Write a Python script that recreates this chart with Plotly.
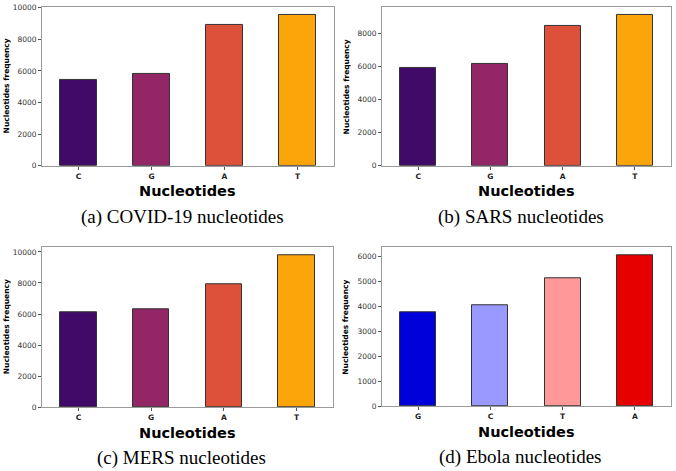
import plotly.graph_objects as go

# ---- data ----
covid_cats = ["C", "G", "A", "T"]
covid_vals = [5455, 5806, 8905, 9566]

sars_cats = ["C", "G", "A", "T"]
sars_vals = [5906, 6183, 8474, 9146]

mers_cats = ["C", "G", "A", "T"]
mers_vals = [6123, 6314, 7924, 9809]

ebola_cats = ["G", "C", "T", "A"]
ebola_vals = [3760, 4061, 5148, 6079]

captions = ["(a) COVID-19 nucleotides", "(b) SARS nucleotides",
            "(c) MERS nucleotides", "(d) Ebola nucleotides"]

inferno_colors = ["#420a68", "#932667", "#dd513a", "#fca50a"]
seismic_colors = ["#0000db", "#9999ff", "#ff9999", "#e60000"]

W, H = 676, 471

# panel boxes in pixels: (x0, x1, y0_top, y1_bottom)
boxes = [(42, 334, 3, 165), (382, 671, 3, 165),
         (42, 333, 248, 411), (382, 671, 248, 410)]

panels = [
    (covid_cats, covid_vals, inferno_colors),
    (sars_cats, sars_vals, inferno_colors),
    (mers_cats, mers_vals, inferno_colors),
    (ebola_cats, ebola_vals, seismic_colors),
]
ytick_steps = [2000, 2000, 2000, 1000]

fig = go.Figure()
annotations = []

def px(x):
    return x / W

def py(y):
    return 1 - y / H

for i, ((cats, vals, cols), (x0, x1, y0, y1)) in enumerate(zip(panels, boxes)):
    n = i + 1
    xa = "x" if n == 1 else f"x{n}"
    ya = "y" if n == 1 else f"y{n}"
    fig.add_trace(go.Bar(
        x=cats, y=vals, xaxis=xa, yaxis=ya, width=0.5,
        marker=dict(color=cols, line=dict(color="#333333", width=1)),
        showlegend=False, hoverinfo="x+y",
    ))
    xkey = "xaxis" if n == 1 else f"xaxis{n}"
    ykey = "yaxis" if n == 1 else f"yaxis{n}"
    fig.update_layout({
        xkey: dict(domain=[px(x0), px(x1)], anchor=ya, range=[-0.5, 3.5],
                   showline=True, mirror=True, linecolor="#9a9a9a", linewidth=1,
                   ticks="outside", ticklen=3, tickcolor="#555555",
                   tickfont=dict(family="DejaVu Sans", size=7.5, color="#222222",
                                 weight="bold"),
                   showgrid=False, zeroline=False, fixedrange=True),
        ykey: dict(domain=[py(y1), py(y0)], anchor=xa,
                   range=[0, max(vals) * 1.05], dtick=ytick_steps[i], tick0=0,
                   tickformat="d", ticklabeloverflow="allow",
                   showline=True, mirror=True, linecolor="#9a9a9a", linewidth=1,
                   ticks="outside", ticklen=3, tickcolor="#555555",
                   tickfont=dict(family="DejaVu Sans", size=7.5, color="#333333"),
                   showgrid=False, zeroline=False, fixedrange=True),
    })
    cx = (x0 + x1) / 2
    # x axis title
    annotations.append(dict(
        text="<b>Nucleotides</b>", x=px(cx), y=py(y1 + 26), xref="paper", yref="paper",
        showarrow=False, xanchor="center", yanchor="middle",
        font=dict(family="DejaVu Sans", size=14.5, color="#000000")))
    # y axis title
    annotations.append(dict(
        text="<b>Nucleotides frequency</b>", x=px(x0 - 36), y=py((y0 + y1) / 2),
        xref="paper", yref="paper", showarrow=False, textangle=-90,
        xanchor="center", yanchor="middle",
        font=dict(family="DejaVu Sans", size=7.5, color="#000000")))
    # caption
    annotations.append(dict(
        text=captions[i], x=px(cx - 6), y=py(y1 + 52), xref="paper", yref="paper",
        showarrow=False, xanchor="center", yanchor="middle",
        font=dict(family="Liberation Serif", size=19, color="#000000")))

fig.update_layout(
    width=W, height=H, margin=dict(l=0, r=0, t=0, b=0),
    paper_bgcolor="white", plot_bgcolor="white",
    annotations=annotations, bargap=0,
)

fig.write_html("out.html", config={"displayModeBar": False},
               post_script="document.body.style.margin='0';document.body.style.overflow='hidden';")
